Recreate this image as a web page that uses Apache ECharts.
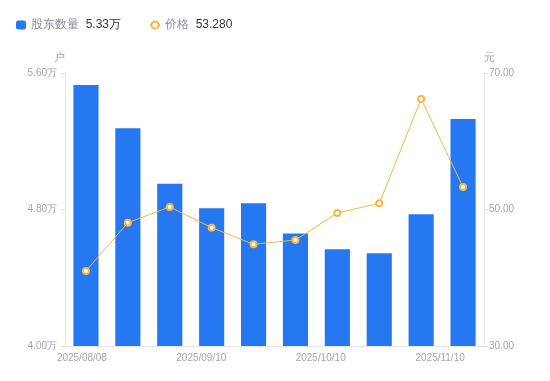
<!DOCTYPE html>
<html><head><meta charset="utf-8">
<script src="https://cdn.jsdelivr.net/npm/echarts@6/dist/echarts.min.js"></script>
<style>html,body{margin:0;padding:0;background:#fff}#c{width:550px;height:381px}</style>
</head><body><div id="c"></div>
<script>
const categories = ['2025/08/08','2025/08/20','2025/08/31','2025/09/10','2025/09/19','2025/09/30','2025/10/10','2025/10/20','2025/10/31','2025/11/10'];
const holders = [55300, 52760, 49510, 48070, 48360, 46600, 45670, 45430, 47720, 53300];
const prices = [40.99, 48.07, 50.37, 47.34, 44.90, 45.53, 49.49, 50.90, 66.19, 53.28];
const leftTicks = { min: 40000, max: 56000, interval: 8000 };
const rightTicks = { min: 30, max: 70, interval: 20 };

const labelColor = '#a3a3b5';
const chart = echarts.init(document.getElementById('c'), null, { renderer: 'canvas' });
const lastH = (holders[holders.length - 1] / 10000).toFixed(2) + '万';
const lastP = prices[prices.length - 1].toFixed(3);
chart.setOption({
  animation: false,
  legend: {
    left: 11, top: 14, itemGap: 28, itemWidth: 10, itemHeight: 9,
    data: [{ name: '股东数量', icon: 'roundRect' }, { name: '价格' }],
    formatter: function (n) { return '{n|' + n + '}  {v|' + (n === '股东数量' ? lastH : lastP) + '}'; },
    textStyle: {
      rich: {
        n: { color: '#8a8a99', fontSize: 12 },
        v: { color: '#333', fontSize: 12 }
      }
    }
  },
  grid: [
    { left: 65, right: 66, top: 73, bottom: 35 },
    { left: 62, right: 90, top: 73, bottom: 35 }
  ],
  xAxis: [
    { type: 'category', data: categories, gridIndex: 0,
      axisLine: { lineStyle: { color: '#e6e6e6' } }, axisTick: { show: false }, axisLabel: { show: false } },
    { type: 'category', data: categories, gridIndex: 1,
      axisLine: { show: false }, axisTick: { show: false },
      axisLabel: { interval: 2, color: labelColor, fontSize: 10, margin: 7 } }
  ],
  yAxis: [
    { type: 'value', gridIndex: 0, position: 'left', min: leftTicks.min, max: leftTicks.max, interval: leftTicks.interval,
      name: '户', nameGap: 10, nameTextStyle: { color: labelColor, fontSize: 11, align: 'right' },
      axisLine: { show: true, lineStyle: { color: '#e6e6e6' } },
      axisTick: { show: true, length: 4, lineStyle: { color: '#e0e0e0' } },
      splitLine: { show: false },
      axisLabel: { color: labelColor, fontSize: 10, margin: 8, formatter: v => (v / 10000).toFixed(2) + '万' } },
    { type: 'value', gridIndex: 0, position: 'right', min: rightTicks.min, max: rightTicks.max, interval: rightTicks.interval,
      name: '元', nameGap: 10, nameTextStyle: { color: labelColor, fontSize: 11, align: 'left' },
      axisLine: { show: true, lineStyle: { color: '#e6e6e6' } },
      axisTick: { show: true, length: 4, lineStyle: { color: '#e0e0e0' } },
      splitLine: { show: false },
      axisLabel: { color: labelColor, fontSize: 10, margin: 5, formatter: v => v.toFixed(2) } },
    { type: 'value', gridIndex: 1, show: false }
  ],
  series: [
    { name: '股东数量', type: 'bar', xAxisIndex: 0, yAxisIndex: 0, data: holders, barWidth: '60%',
      itemStyle: { color: '#2677f2' } },
    { name: '价格', type: 'line', xAxisIndex: 0, yAxisIndex: 1, data: prices,
      symbol: 'circle', symbolSize: 6,
      lineStyle: { color: '#f7b740', width: 1 },
      itemStyle: { color: '#fff', borderColor: '#f7b740', borderWidth: 2 } }
  ]
});
</script></body></html>
